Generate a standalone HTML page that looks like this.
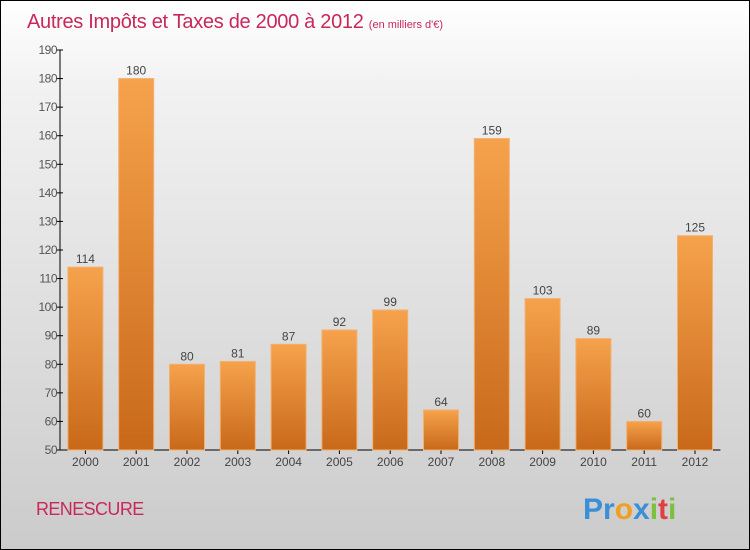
<!DOCTYPE html>
<html><head><meta charset="utf-8"><style>
body{margin:0}
#c{position:relative;width:748px;height:548px;border:1px solid #000;background:linear-gradient(#fff,#f2f2f2 15%,#d9d9d9 70%,#cbcbcb);font-family:"Liberation Sans",sans-serif;overflow:hidden}
</style></head><body>
<div id="c">
<svg id="s" width="748" height="548">
<defs><linearGradient id="g" x1="0" y1="0" x2="0" y2="1"><stop offset="0" stop-color="#f6a24c"/><stop offset="1" stop-color="#c8691a"/></linearGradient></defs>
<text x="26" y="27" font-size="20" fill="#c8285a" letter-spacing="-0.3">Autres Impôts et Taxes de 2000 à 2012 <tspan font-size="11" letter-spacing="0">(en milliers d'€)</tspan></text>
<text x="35" y="514" font-size="18" fill="#c8285a" letter-spacing="-0.6">RENESCURE</text>
<text x="582" y="518" font-size="30" font-weight="bold"><tspan fill="#3a8fd6">Pr</tspan><tspan fill="#f0a020">o</tspan><tspan fill="#3a8fd6">x</tspan><tspan fill="#7cc040">i</tspan><tspan fill="#e04040">t</tspan><tspan fill="#7cc040">i</tspan></text>
<g id="plot"></g>
</svg></div>
<script>
const categories=["2000","2001","2002","2003","2004","2005","2006","2007","2008","2009","2010","2011","2012"];
const values=[114,180,80,81,87,92,99,64,159,103,89,60,125];
const yTicks=[50,60,70,80,90,100,110,120,130,140,150,160,170,180,190];
const ns="http://www.w3.org/2000/svg",p=document.getElementById('plot');
const x0=59,step=50.8,yMin=50,yMax=190,yB=449,yT=49;
const y=v=>yB-(v-yMin)/(yMax-yMin)*(yB-yT);
function el(t,a,par){const e=document.createElementNS(ns,t);for(const k in a)e.setAttribute(k,a[k]);(par||p).appendChild(e);return e;}
let ax=el('line',{x1:x0,y1:yT,x2:x0,y2:yB,stroke:'#000'});

let bx=el('line',{x1:x0,y1:yB,x2:x0+13*step,y2:yB,stroke:'#000'});

yTicks.forEach(v=>{el('line',{x1:x0-3,y1:y(v),x2:x0+3,y2:y(v),stroke:'#000'});
const t=el('text',{x:x0-3,y:y(v)+4,'text-anchor':'end','font-size':12,fill:'#555','letter-spacing':'-0.5'});t.textContent=v;
});
categories.forEach((c,i)=>{const cx=x0+step*(i+0.5);
el('line',{x1:cx,y1:yB,x2:cx,y2:yB+4,stroke:'#000'});
const r=el('rect',{x:cx-17.5,y:y(values[i]),width:35,height:yB-y(values[i]),fill:'url(#g)',stroke:'#f3b070','stroke-width':1});

const t=el('text',{x:cx,y:y(values[i])-4,'text-anchor':'middle','font-size':12,fill:'#444'});t.textContent=values[i];

const l=el('text',{x:cx,y:yB+16,'text-anchor':'middle','font-size':12,fill:'#444'});l.textContent=c;
});
</script></body></html>
